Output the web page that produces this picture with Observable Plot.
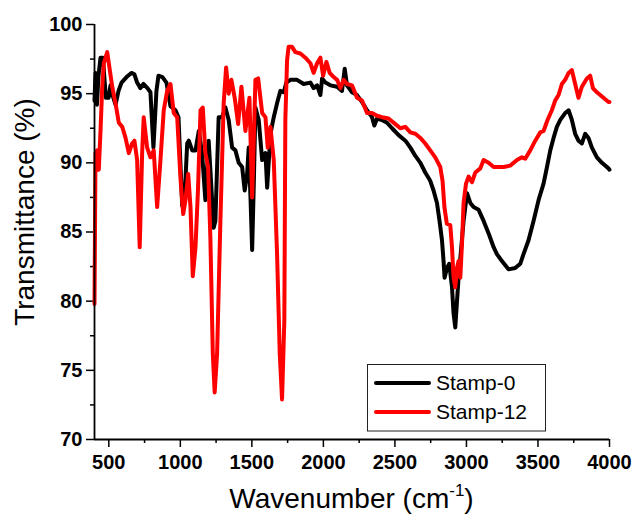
<!DOCTYPE html>
<html>
<head>
<meta charset="utf-8">
<script src="https://cdn.jsdelivr.net/npm/d3@7"></script>
<script src="https://cdn.jsdelivr.net/npm/@observablehq/plot@0.6"></script>
<style>
  html, body { margin: 0; padding: 0; background: #fff; }
  #chart { width: 633px; height: 514px; }
</style>
</head>
<body>
<div id="chart"></div>
<script>
// FTIR spectra: transmittance (%) versus wavenumber (cm-1)
const seriesNames = ["Stamp-0", "Stamp-12"];
const seriesColors = ["#000000", "#ff0000"];

const wavenumber0 = [400,407,417,428,442,459,470,480,498,512,526,547,568,589,624,658,679,698,721,742,770,791,812,833,847,875,903,931,966,987,1013,1029,1048,1059,1083,1106,1129,1152,1175,1198,1210,1233,1245,1268,1292,1315,1338,1362,1385,1408,1432,1450,1467,1478,1491,1502,1514,1525,1548,1572,1595,1607,1630,1653,1676,1699,1723,1741,1769,1816,1862,1909,1932,1956,1979,1991,2014,2049,2096,2130,2149,2165,2200,2235,2270,2305,2340,2356,2375,2410,2445,2480,2526,2573,2608,2643,2678,2712,2747,2770,2794,2812,2829,2840,2847,2864,2880,2899,2910,2922,2934,2945,2964,2980,3004,3027,3050,3085,3120,3155,3190,3213,3248,3294,3341,3376,3399,3434,3469,3504,3539,3563,3586,3609,3632,3656,3690,3714,3737,3760,3783,3807,3830,3853,3877,3912,3947,3993,4000];
const stamp0 = [94.5,96.5,94.2,96.3,97.6,97.6,96.0,94.7,94.7,95.6,94.9,94.2,95.2,95.8,96.2,96.5,96.4,95.8,95.4,95.7,95.4,95.1,91.1,95.2,96.3,96.2,95.8,94.1,93.8,93.3,86.9,87.3,91.4,91.6,90.9,90.9,92.3,90.7,87.3,91.6,89.5,85.3,85.8,93.3,93.3,94.0,93.1,91.1,90.9,90.0,89.7,88.0,89.2,91.1,87.3,83.7,88.7,94.0,93.1,90.2,90.7,88.2,92.1,93.3,94.3,95.2,95.1,95.8,96.0,96.0,95.7,95.8,95.4,95.6,94.9,96.1,95.8,95.6,95.5,95.2,96.8,95.6,95.1,94.9,94.4,93.8,93.3,92.7,93.2,93.1,92.9,92.5,92.0,91.6,91.1,90.5,90.0,89.3,88.7,88.0,87.1,85.8,84.4,82.9,81.7,82.4,82.7,81.0,79.1,78.1,80.0,81.7,83.9,85.8,87.8,87.1,86.8,86.6,85.8,84.9,83.9,83.4,82.9,82.3,82.4,82.7,83.4,84.4,85.8,87.3,88.5,89.7,90.9,91.8,92.6,93.1,93.6,93.8,93.1,92.1,91.6,91.4,92.1,91.8,91.1,90.4,90.0,89.6,89.5];

const wavenumber12 = [400,407,419,430,442,454,465,489,500,524,547,570,594,617,640,663,679,698,716,733,744,768,791,814,838,861,884,908,931,954,978,1001,1020,1036,1055,1071,1087,1106,1124,1141,1157,1175,1194,1210,1227,1240,1257,1280,1303,1320,1338,1357,1380,1404,1427,1455,1483,1502,1525,1544,1572,1595,1611,1630,1653,1676,1695,1711,1727,1734,1746,1757,1780,1804,1839,1874,1909,1932,1956,1979,1998,2021,2044,2072,2096,2119,2142,2165,2200,2235,2270,2305,2340,2375,2410,2456,2468,2503,2538,2573,2608,2643,2678,2712,2747,2782,2817,2833,2846,2863,2887,2899,2910,2922,2934,2945,2957,2969,2980,2997,3015,3039,3062,3097,3120,3155,3190,3213,3260,3306,3353,3388,3411,3446,3481,3516,3539,3567,3597,3620,3644,3667,3690,3714,3737,3760,3783,3807,3842,3865,3884,3912,3958,3993,4000];
const stamp12 = [79.8,90.7,90.9,89.5,92.3,95.5,97.2,98.0,97.2,95.5,94.3,92.9,92.6,91.8,90.7,91.4,91.6,90.2,83.9,90.7,93.3,91.1,90.4,90.9,86.8,90.2,93.8,95.2,95.7,93.6,93.3,88.9,86.3,87.3,89.2,86.8,81.8,83.9,88.2,93.8,94.0,90.7,89.7,84.6,76.2,73.4,76.2,85.8,94.3,96.9,95.0,96.0,94.7,92.8,95.5,92.3,94.7,87.5,96.0,96.1,93.6,93.3,91.1,92.6,90.2,83.5,76.2,72.9,78.6,93.1,97.4,98.4,98.4,98.0,97.9,97.6,97.2,96.5,97.2,97.6,96.3,97.3,96.5,96.2,96.0,95.4,96.0,95.7,95.6,94.7,94.5,93.6,93.6,93.4,93.3,93.2,93.1,92.8,92.5,92.6,92.2,92.1,91.8,91.4,90.9,90.4,89.7,88.7,86.8,85.6,85.5,83.9,81.7,81.0,82.4,82.9,81.7,84.2,87.1,88.5,89.0,88.6,89.3,89.6,90.2,90.0,89.7,89.7,89.7,89.8,90.2,90.4,90.3,90.9,91.6,92.2,92.3,93.1,93.8,94.5,94.9,95.7,96.0,96.5,96.7,95.7,94.7,95.5,96.1,96.3,95.4,95.1,94.7,94.4,94.4];

const xMajor = [500,1000,1500,2000,2500,3000,3500,4000];
const xMinor = [750,1250,1750,2250,2750,3250,3750];
const yMajor = [70,75,80,85,90,95,100];
const yMinor = [72.5,77.5,82.5,87.5,92.5,97.5];

const spectra = [
  {name: seriesNames[0], wn: wavenumber0, t: stamp0},
  {name: seriesNames[1], wn: wavenumber12, t: stamp12}
].map(s => s.wn.map((w, i) => ({series: s.name, wn: w, t: s.t[i]})));

const font = "'Liberation Sans', Arial, sans-serif";

const plot = Plot.plot({
  width: 633,
  height: 514,
  marginLeft: 94,
  marginRight: 24,
  marginTop: 24,
  marginBottom: 75,
  style: {fontFamily: font, background: "#fff", overflow: "visible"},
  x: {domain: [400, 4000]},
  y: {domain: [70, 100]},
  marks: [
    Plot.axisX(xMajor, {tickSize: 8, tickPadding: 7, fontSize: 20, fontWeight: "bold", strokeWidth: 1.5, label: null, fill: "#000", tickFormat: d => String(d)}),
    Plot.axisX(xMinor, {tickSize: 4, tickFormat: () => "", strokeWidth: 1.5, label: null}),
    Plot.axisY(yMajor, {tickSize: 8, tickPadding: 4, fontSize: 20, fontWeight: "bold", strokeWidth: 1.5, label: null, fill: "#000", tickFormat: d => String(d)}),
    Plot.axisY(yMinor, {tickSize: 4, tickFormat: () => "", strokeWidth: 1.5, label: null}),
    Plot.line(spectra[0], {x: "wn", y: "t", stroke: seriesColors[0], strokeWidth: 4, strokeLinejoin: "round"}),
    Plot.line(spectra[1], {x: "wn", y: "t", stroke: seriesColors[1], strokeWidth: 4, strokeLinejoin: "round"}),
    Plot.ruleX([400], {strokeWidth: 1.8}),
    Plot.ruleY([70], {strokeWidth: 1.8})
  ]
});

document.getElementById("chart").appendChild(plot);

// Axis titles and the boxed legend
const svg = d3.select(plot);
const xs = plot.scale("x");
const cx = (xs.range[0] + xs.range[1]) / 2;

const xTitle = svg.append("text")
  .attr("x", cx).attr("y", 508)
  .attr("text-anchor", "middle")
  .style("font-family", font).style("font-size", "28px").style("font-weight", "normal")
  .attr("fill", "#000");
xTitle.append("tspan").text("Wavenumber (cm");
xTitle.append("tspan").attr("dy", -12).style("font-size", "17px").text("-1");
xTitle.append("tspan").attr("dy", 12).text(")");

svg.append("text")
  .attr("transform", "translate(33.5,212) rotate(-90)")
  .attr("text-anchor", "middle")
  .style("font-family", font).style("font-size", "28px").style("font-weight", "normal")
  .attr("fill", "#000")
  .text("Transmittance (%)");

const legend = svg.append("g");
legend.append("rect")
  .attr("x", 367.5).attr("y", 364.5).attr("width", 178).attr("height", 66.5)
  .attr("fill", "#fff").attr("stroke", "#222").attr("stroke-width", 1);
seriesNames.forEach((name, i) => {
  const y = 383 + i * 29;
  legend.append("line")
    .attr("x1", 376).attr("x2", 429).attr("y1", y).attr("y2", y)
    .attr("stroke", seriesColors[i]).attr("stroke-width", 4).attr("stroke-linecap", "round");
  legend.append("text")
    .attr("x", 436).attr("y", y + 7)
    .attr("text-anchor", "start")
    .style("font-family", font).style("font-size", "21px").style("font-weight", "normal")
    .attr("fill", "#000")
    .text(name);
});
</script>
</body>
</html>
